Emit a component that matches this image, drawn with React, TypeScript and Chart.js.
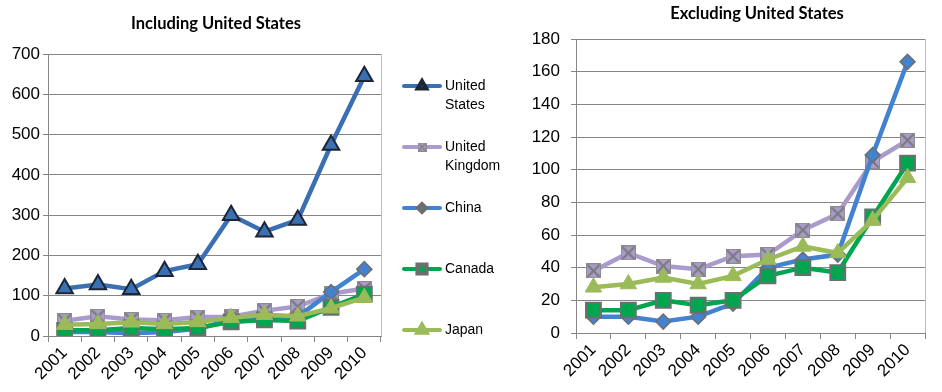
import React, { useEffect, useRef } from 'react';
import { Chart, registerables } from 'chart.js';
import { drawPoint } from 'chart.js/helpers';

Chart.register(...registerables);

// ---------- data ----------
const years = ['2001', '2002', '2003', '2004', '2005', '2006', '2007', '2008', '2009', '2010'];
const seriesNames = ['United States', 'United Kingdom', 'China', 'Canada', 'Japan'];
const unitedStates = [118, 128, 116, 161, 178, 300, 259, 288, 474, 645];
const unitedKingdom = [38, 49, 41, 39, 47, 48, 63, 73, 105, 118];
const china = [10, 10, 7, 10, 18, 40, 45, 48, 109, 166];
const canada = [14, 14, 20, 17, 20, 35, 40, 37, 71, 104];
const japan = [28, 30, 34, 30, 35, 45, 53, 49, 69, 95];
const leftTitle = 'Including United States';
const rightTitle = 'Excluding United States';
const leftMax = 700;
const leftStep = 100;
const rightMax = 180;
const rightStep = 20;

// ---------- styles ----------
const C_US = '#3B6FB3';
const C_US_BORDER = '#1C2635';
const C_UK = '#A99BCB';
const C_CN = '#4282D0';
const C_CA = '#00A64F';
const C_JP = '#9BBB59';
const C_MARK_BORDER = '#6E6E6E';
const AXIS = '#868686';
const TICK_FONT = { family: "'Liberation Sans', Arial, sans-serif", size: 17 };
const LEGEND_FONT = "14px 'Liberation Sans', Arial, sans-serif";
const TITLE_FONT = "bold 16.5px Lato, 'Liberation Sans', sans-serif";

function makeCrossBox(size: number) {
  const c = document.createElement('canvas');
  c.width = size;
  c.height = size;
  const g = c.getContext('2d')!;
  g.fillStyle = C_UK;
  g.fillRect(0, 0, size, size);
  g.strokeStyle = '#8C8C8C';
  g.lineWidth = 1;
  g.strokeRect(0.5, 0.5, size - 1, size - 1);
  g.strokeStyle = '#7A7A7A';
  g.lineWidth = size > 10 ? 2 : 1.2;
  g.beginPath();
  g.moveTo(1.5, 1.5);
  g.lineTo(size - 1.5, size - 1.5);
  g.moveTo(size - 1.5, 1.5);
  g.lineTo(1.5, size - 1.5);
  g.stroke();
  return c;
}

function buildDatasets(includeUS: boolean, ukImg: HTMLCanvasElement) {
  const ds: any[] = [];
  if (includeUS) {
    ds.push({
      label: seriesNames[0], data: unitedStates, borderColor: C_US, backgroundColor: C_US,
      pointStyle: 'triangle', pointRadius: 9.5, pointBorderColor: C_US_BORDER, pointBackgroundColor: C_US,
      pointBorderWidth: 2, borderWidth: 4.5, order: 5,
    });
  }
  ds.push({
    label: seriesNames[1], data: unitedKingdom, borderColor: C_UK, backgroundColor: C_UK,
    pointStyle: ukImg, pointRadius: 8, borderWidth: 4.5, order: 4,
  });
  ds.push({
    label: seriesNames[2], data: china, borderColor: C_CN, backgroundColor: C_CN,
    pointStyle: 'rectRot', pointRadius: 7.5, pointBorderColor: C_MARK_BORDER, pointBackgroundColor: C_CN,
    pointBorderWidth: 1.5, borderWidth: 4.5, order: 3,
  });
  ds.push({
    label: seriesNames[3], data: canada, borderColor: C_CA, backgroundColor: C_CA,
    pointStyle: 'rect', pointRadius: 10.5, pointBorderColor: C_MARK_BORDER, pointBackgroundColor: C_CA,
    pointBorderWidth: 2, borderWidth: 4.5, order: 2,
  });
  ds.push({
    label: seriesNames[4], data: japan, borderColor: C_JP, backgroundColor: C_JP,
    pointStyle: 'triangle', pointRadius: 9.5, pointBorderColor: C_JP, pointBackgroundColor: C_JP,
    pointBorderWidth: 1, borderWidth: 4.5, order: 1,
  });
  return ds;
}

function titlePlugin(text: string, cx: number, cy: number) {
  return {
    id: 'customTitle',
    afterDraw(chart: any) {
      const ctx = chart.ctx;
      ctx.save();
      ctx.font = TITLE_FONT;
      ctx.fillStyle = '#000';
      ctx.textAlign = 'center';
      ctx.textBaseline = 'middle';
      ctx.fillText(text, cx, cy);
      ctx.restore();
    },
  };
}

const framePlugin = {
  id: 'frame',
  beforeDatasetsDraw(chart: any) {
    const { ctx, chartArea } = chart;
    ctx.save();
    ctx.strokeStyle = '#BDBDBD';
    ctx.lineWidth = 1;
    ctx.beginPath();
    ctx.moveTo(Math.round(chartArea.right) + 0.5, chartArea.top);
    ctx.lineTo(Math.round(chartArea.right) + 0.5, chartArea.bottom);
    ctx.stroke();
    ctx.restore();
  },
};

function legendPlugin(smallUk: HTMLCanvasElement) {
  return {
    id: 'customLegend',
    afterDraw(chart: any) {
      const ctx = chart.ctx;
      const x0 = 402;
      const x1 = 442;
      const xm = (x0 + x1) / 2;
      const tx = 445;
      const marks = [
        { color: C_US, style: 'triangle', r: 5, fill: C_US, border: C_US_BORDER, bw: 1 },
        { color: C_UK, style: smallUk, r: 5, fill: C_UK, border: C_UK, bw: 0 },
        { color: C_CN, style: 'rectRot', r: 4, fill: C_CN, border: C_MARK_BORDER, bw: 1 },
        { color: C_CA, style: 'rect', r: 6.5, fill: C_CA, border: C_MARK_BORDER, bw: 1.5 },
        { color: C_JP, style: 'triangle', r: 5.5, fill: C_JP, border: C_JP, bw: 1 },
      ];
      ctx.save();
      seriesNames.forEach((name, i) => {
        const y = 86 + i * 61;
        const m = marks[i];
        ctx.strokeStyle = m.color;
        ctx.lineWidth = 4;
        ctx.lineCap = 'round';
        ctx.beginPath();
        ctx.moveTo(x0 + 2, y);
        ctx.lineTo(x1 - 2, y);
        ctx.stroke();
        ctx.lineCap = 'butt';
        ctx.fillStyle = m.fill;
        ctx.strokeStyle = m.border;
        drawPoint(ctx, { pointStyle: m.style, rotation: 0, radius: m.r, borderWidth: m.bw } as any, xm, y);
        ctx.fillStyle = '#000';
        ctx.font = LEGEND_FONT;
        ctx.textAlign = 'left';
        ctx.textBaseline = 'middle';
        const parts = name.split(' ');
        parts.forEach((p, k) => ctx.fillText(p, tx, y + k * 19));
      });
      ctx.restore();
    },
  };
}

function makeOptions(max: number, step: number, pad: any, yWidth: number, xHeight: number, yTickPad: number) {
  return {
    responsive: false,
    animation: false as const,
    layout: { padding: pad },
    plugins: { legend: { display: false }, title: { display: false }, tooltip: { enabled: false } },
    scales: {
      x: {
        offset: true,
        grid: { offset: true, drawOnChartArea: false, drawTicks: true, tickLength: 6, color: AXIS },
        border: { color: AXIS, width: 1 },
        ticks: { maxRotation: 45, minRotation: 45, font: TICK_FONT, color: '#000', padding: 1, autoSkip: false },
        afterFit: (s: any) => { s.height = xHeight; },
      },
      y: {
        min: 0,
        max,
        ticks: { stepSize: step, font: TICK_FONT, color: '#000', padding: yTickPad },
        grid: { color: AXIS, tickLength: 5 },
        border: { color: AXIS, width: 1 },
        afterFit: (s: any) => { s.width = yWidth; },
      },
    },
  };
}

export default function App() {
  const leftRef = useRef<HTMLCanvasElement>(null);
  const rightRef = useRef<HTMLCanvasElement>(null);

  useEffect(() => {
    const ukBig = makeCrossBox(15);
    const ukSmall = makeCrossBox(9);
    const left = new Chart(leftRef.current!, {
      type: 'line',
      data: { labels: years, datasets: buildDatasets(true, ukBig) },
      options: makeOptions(leftMax, leftStep, { top: 54, right: 139, bottom: 0, left: 0 }, 48, 56, 3) as any,
      plugins: [framePlugin, titlePlugin(leftTitle, 216, 24), legendPlugin(ukSmall)],
    });
    const right = new Chart(rightRef.current!, {
      type: 'line',
      data: { labels: years, datasets: buildDatasets(false, ukBig) },
      options: makeOptions(rightMax, rightStep, { top: 39, right: 17, bottom: 0, left: 0 }, 96, 59, 11) as any,
      plugins: [framePlugin, titlePlugin(rightTitle, 277, 14)],
    });
    return () => {
      left.destroy();
      right.destroy();
    };
  }, []);

  return (
    <div style={{ position: 'absolute', left: 0, top: 0, width: 942, height: 392, background: '#fff', overflow: 'hidden' }}>
      <canvas ref={leftRef} width={520} height={392} style={{ position: 'absolute', left: 0, top: 0, width: 520, height: 392 }} />
      <canvas ref={rightRef} width={462} height={392} style={{ position: 'absolute', left: 480, top: 0, width: 462, height: 392 }} />
    </div>
  );
}
